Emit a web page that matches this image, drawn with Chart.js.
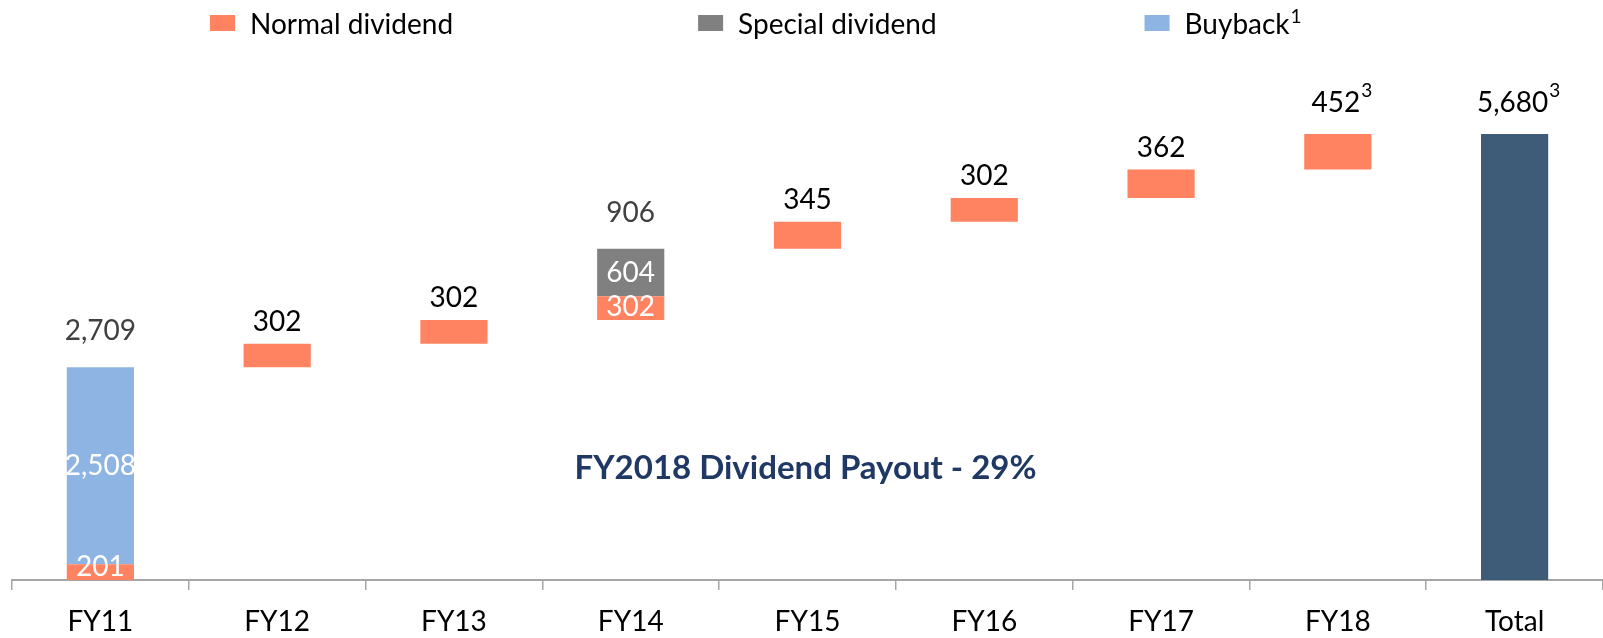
<!DOCTYPE html>
<html>
<head>
<meta charset="utf-8">
<script src="https://cdn.jsdelivr.net/npm/chart.js@4.4.1/dist/chart.umd.min.js"></script>
<style>
  html, body { margin: 0; padding: 0; background: #fff; }
  #wrap { width: 1603px; height: 638px; }
</style>
</head>
<body>
<div id="wrap"><canvas id="chart" width="1603" height="638"></canvas></div>
<script>
// data
const categories = ['FY11', 'FY12', 'FY13', 'FY14', 'FY15', 'FY16', 'FY17', 'FY18', 'Total'];
const normalDividend = [201, 302, 302, 302, 345, 302, 362, 452, null];
const specialDividend = [null, null, null, 604, null, null, null, null, null];
const buyback = [2508, null, null, null, null, null, null, null, null];
const totalValue = 5680;
const footnotes = ['', '', '', '', '', '', '', '3', '3'];
const legendLabels = ['Normal dividend', 'Special dividend', 'Buyback'];
const legendNotes = ['', '', '1'];
const payoutText = 'FY2018 Dividend Payout - 29%';

const colors = {
  normal: '#FF8361',
  special: '#808080',
  buyback: '#8EB4E3',
  total: '#3E5C77'
};

// build floating [start, end] ranges for the waterfall
const normalRanges = [], specialRanges = [], buybackRanges = [], totalRanges = [];
const stepTotals = [];
let running = 0;
categories.forEach((c, i) => {
  if (c === 'Total') {
    normalRanges.push(null); specialRanges.push(null); buybackRanges.push(null);
    totalRanges.push([0, totalValue]);
    stepTotals.push(totalValue);
    return;
  }
  let cur = running;
  let step = 0;
  const parts = [[normalDividend[i], normalRanges], [specialDividend[i], specialRanges], [buyback[i], buybackRanges]];
  parts.forEach(([v, arr]) => {
    if (v == null) { arr.push(null); return; }
    arr.push([cur, cur + v]);
    cur += v;
    step += v;
  });
  totalRanges.push(null);
  stepTotals.push(step);
  running = cur;
});

const fmt = v => v.toLocaleString('en-US');
const FONT = 'Lato';
Chart.defaults.font.family = FONT;

const labelPlugin = {
  id: 'waterfallLabels',
  afterDatasetsDraw(chart) {
    const ctx = chart.ctx;
    ctx.save();
    categories.forEach((c, i) => {
      let top = Infinity, x = 0, segs = [];
      chart.data.datasets.forEach((ds, di) => {
        const el = chart.getDatasetMeta(di).data[i];
        if (!ds.data[i] || !el) return;
        top = Math.min(top, el.y);
        x = el.x;
        segs.push({ el, v: ds.data[i][1] - ds.data[i][0] });
      });
      if (!segs.length) return;
      const multi = segs.length > 1;
      // white value labels inside split bars
      if (multi) {
        ctx.fillStyle = '#fff';
        ctx.font = '28px ' + FONT;
        ctx.textAlign = 'center';
        ctx.textBaseline = 'middle';
        segs.forEach(s => {
          const cy = Math.min((s.el.y + s.el.base) / 2, s.el.base - 13);
          ctx.fillText(fmt(s.v), s.el.x, cy);
        });
      }
      // step total above the bar
      const txt = fmt(stepTotals[i]);
      const note = footnotes[i];
      const off = multi ? 36 : (note ? 31 : 22);
      ctx.font = '28px ' + FONT;
      ctx.textBaseline = 'middle';
      ctx.fillStyle = multi ? '#404040' : '#000';
      const w = ctx.measureText(txt).width;
      const left = x - w / 2 + (note ? -2 : 0);
      ctx.textAlign = 'left';
      ctx.fillText(txt, left, top - off);
      if (note) {
        ctx.font = '19px ' + FONT;
        ctx.fillText(note, left + w + 1, top - off - 12);
      }
    });

    // payout note
    const area = chart.chartArea;
    ctx.font = 'bold 33px ' + FONT;
    ctx.fillStyle = '#1F3864';
    ctx.textAlign = 'center';
    ctx.textBaseline = 'middle';
    ctx.fillText(payoutText, (area.left + area.right) / 2 - 2, area.top + (area.bottom - area.top) * 0.764);
    ctx.restore();
  },
  afterDraw(chart) {
    // legend row across the top
    const ctx = chart.ctx;
    const xs = [0.131, 0.4355, 0.714];
    const legendColors = [colors.normal, colors.special, colors.buyback];
    ctx.save();
    legendLabels.forEach((l, i) => {
      const bx = chart.width * xs[i];
      ctx.fillStyle = legendColors[i];
      ctx.fillRect(bx, 15, 25, 16);
      ctx.fillStyle = '#000';
      ctx.font = '28px ' + FONT;
      ctx.textAlign = 'left';
      ctx.textBaseline = 'middle';
      ctx.fillText(l, bx + 40, 25);
      if (legendNotes[i]) {
        const w = ctx.measureText(l).width;
        ctx.font = '19px ' + FONT;
        ctx.fillText(legendNotes[i], bx + 41 + w, 17);
      }
    });
    ctx.restore();
  }
};

new Chart(document.getElementById('chart').getContext('2d'), {
  type: 'bar',
  data: {
    labels: categories,
    datasets: [
      { label: legendLabels[0], data: normalRanges, backgroundColor: colors.normal },
      { label: legendLabels[1], data: specialRanges, backgroundColor: colors.special },
      { label: legendLabels[2], data: buybackRanges, backgroundColor: colors.buyback },
      { label: 'Total', data: totalRanges, backgroundColor: colors.total }
    ]
  },
  options: {
    responsive: false,
    animation: false,
    devicePixelRatio: 1,
    layout: { padding: { top: 109, left: 12, right: 0, bottom: -16 } },
    datasets: { bar: { categoryPercentage: 1, barPercentage: 0.38, borderSkipped: false } },
    plugins: {
      legend: { display: false },
      tooltip: { enabled: false }
    },
    scales: {
      x: {
        stacked: true,
        grid: { drawOnChartArea: false, drawTicks: true, tickLength: 10, color: '#a6a6a6', lineWidth: 1.5 },
        border: { display: true, color: '#a6a6a6', width: 2 },
        ticks: { color: '#000', font: { size: 28, lineHeight: 1 }, padding: 18 }
      },
      y: {
        display: false,
        stacked: false,
        min: 0,
        max: 6000
      }
    }
  },
  plugins: [labelPlugin]
});
</script>
</body>
</html>
